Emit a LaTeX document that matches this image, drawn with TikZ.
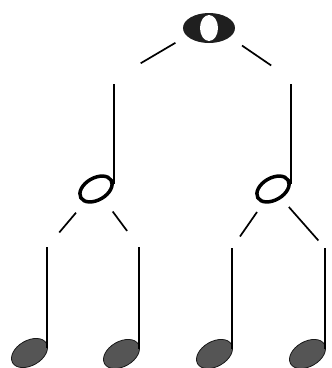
\documentclass[tikz,border=0pt]{standalone}
\usetikzlibrary{shapes.geometric, calc}
\definecolor{headgray}{RGB}{85, 85, 85}

\begin{document}
\begin{tikzpicture}[x=1pt, y=-1pt,
  wholehead/.style={ellipse, fill=black!88, inner sep=0pt, minimum width=52pt, minimum height=30pt,
    path picture={\fill[white] (path picture bounding box.center) ellipse (9pt and 13pt);}},
  halfhead/.style={ellipse, draw=black, line width=3.5pt, fill=white, inner sep=0pt, minimum width=35pt, minimum height=22pt, rotate=30},
  quarterhead/.style={ellipse, draw=black!90, line width=0.8pt, fill=headgray, inner sep=0pt, minimum width=39pt, minimum height=25pt, rotate=30},
  notestem/.style={line width=2pt},
  branch/.style={line width=1.7pt}]
  \useasboundingbox (0,0) rectangle (332,368);

  \coordinate (s1) at (114,84);  \coordinate (s2) at (291,84);
  \coordinate (s3) at (47,247);  \coordinate (s4) at (139,247);
  \coordinate (s5) at (232,248); \coordinate (s6) at (325,248);

  \node[wholehead] (whole) at (209,28) {};
  \node[halfhead] (h1) at (96,189) {};
  \node[halfhead] (h2) at (273,189) {};
  \node[quarterhead] (q1) at (29.5,353) {};
  \node[quarterhead] (q2) at (121.5,354) {};
  \node[quarterhead] (q3) at (214.5,354) {};
  \node[quarterhead] (q4) at (307.5,354) {};

  \draw[notestem] (s1) -- ($(s1 |- h1)+(0,-5)$); \draw[notestem] (s2) -- ($(s2 |- h2)+(0,-5)$);
  \draw[notestem] (s3) -- ($(s3 |- q1)+(0,-5)$); \draw[notestem] (s4) -- ($(s4 |- q2)+(0,-5)$);
  \draw[notestem] (s5) -- ($(s5 |- q3)+(0,-5)$); \draw[notestem] (s6) -- ($(s6 |- q4)+(0,-5)$);

  \draw[branch, transform canvas={yshift=5pt}, shorten <=39pt, shorten >=31pt] (whole.center) -- (s1);
  \draw[branch, transform canvas={yshift=5pt}, shorten <=40pt, shorten >=24pt] (whole.center) -- (s2);
  \draw[branch, shorten <=31pt, shorten >=19pt] (h1.center) -- (s3);
  \draw[branch, shorten <=28pt, shorten >=20pt] (h1.center) -- (s4);
  \draw[branch, shorten <=28pt, shorten >=14pt] (h2.center) -- (s5);
  \draw[branch, shorten <=24pt, shorten >=10pt] (h2.center) -- (s6);
\end{tikzpicture}
\end{document}
